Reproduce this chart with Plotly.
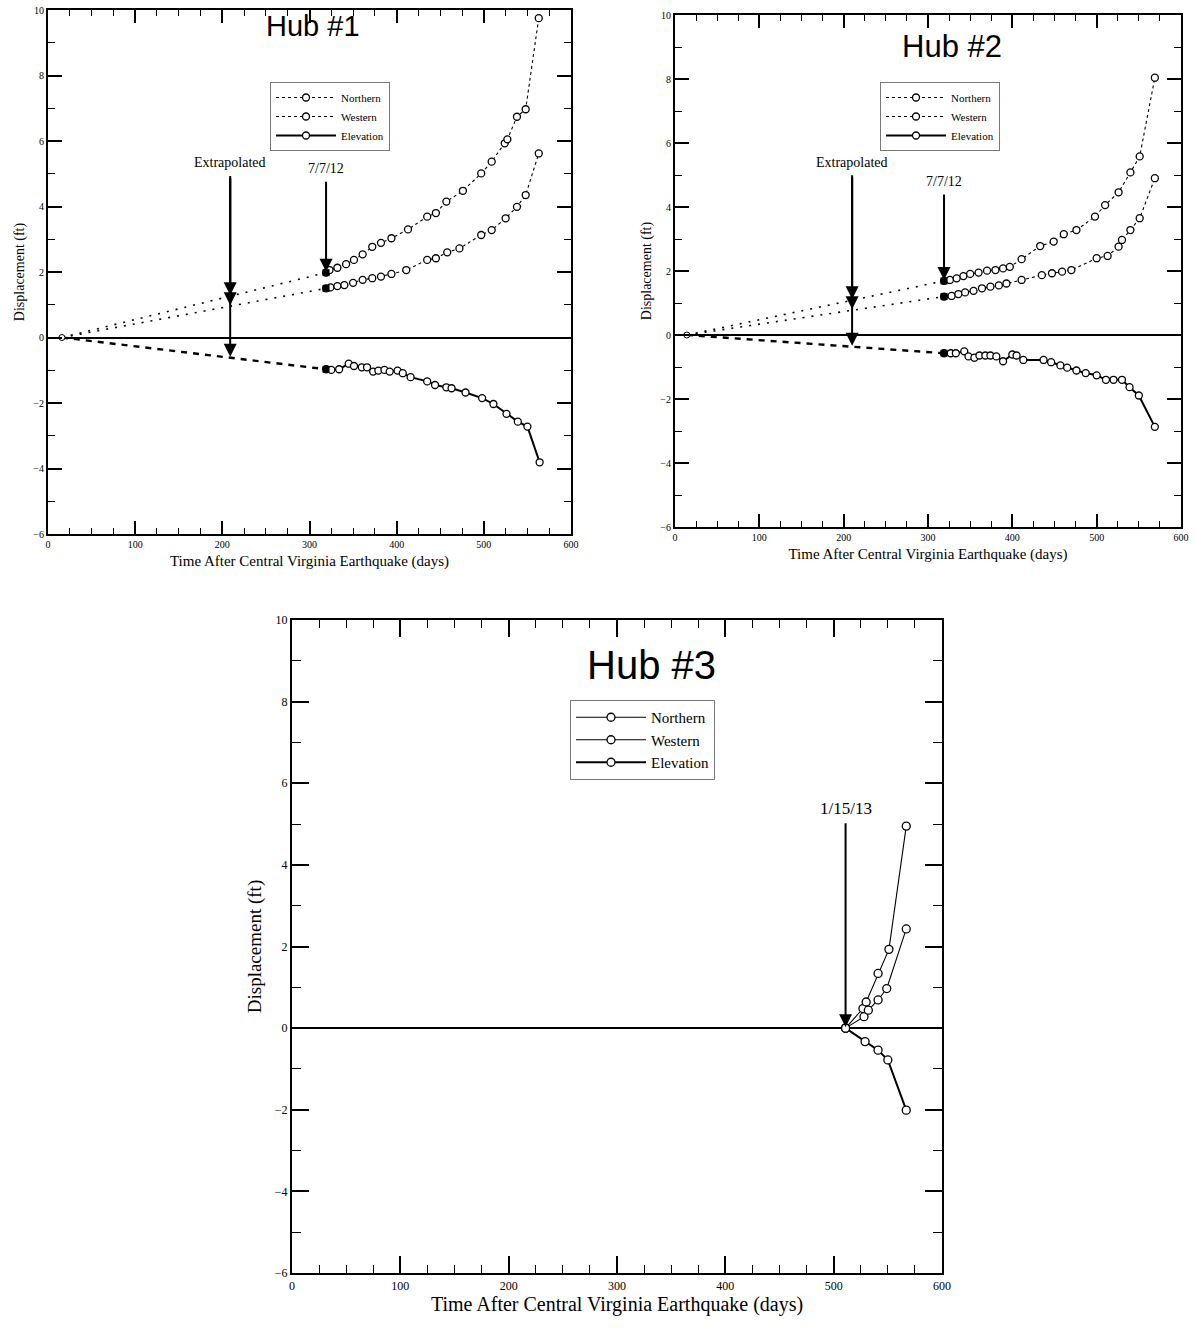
import numpy as np
import plotly.graph_objects as go

# ---------------- data (days after 8/23/2011 earthquake, displacement ft) ----------------
h1_start_day = 16
h1_days_N = [319, 323, 332, 342, 351, 361, 372, 382, 394, 413, 435, 445, 457, 476, 497, 509, 524, 527, 538, 548, 563]
h1_N = [1.98, 2.06, 2.13, 2.24, 2.37, 2.54, 2.77, 2.89, 3.03, 3.30, 3.69, 3.80, 4.15, 4.48, 5.01, 5.37, 5.93, 6.05, 6.74, 6.97, 9.75]
h1_days_W = [319, 324, 332, 340, 350, 361, 372, 382, 394, 411, 435, 445, 458, 472, 497, 509, 525, 538, 548, 563]
h1_W = [1.50, 1.53, 1.57, 1.60, 1.67, 1.76, 1.81, 1.86, 1.94, 2.06, 2.37, 2.42, 2.60, 2.72, 3.13, 3.28, 3.64, 3.99, 4.35, 5.62]
h1_days_E = [319, 325, 334, 345, 351, 360, 366, 373, 379, 386, 392, 401, 407, 416, 435, 444, 457, 463, 479, 498, 511, 526, 539, 550, 564]
h1_E = [-0.97, -0.99, -0.97, -0.80, -0.87, -0.91, -0.91, -1.04, -1.01, -0.99, -1.04, -1.01, -1.09, -1.21, -1.34,
        -1.45, -1.52, -1.55, -1.68, -1.85, -2.03, -2.33, -2.57, -2.72, -3.81]

h2_start_day = 14
h2_days_N = [319, 326, 334, 342, 350, 360, 370, 380, 389, 397, 411, 433, 449, 461, 476, 498, 510, 526, 540, 551, 569]
h2_N = [1.69, 1.72, 1.77, 1.84, 1.91, 1.95, 2.01, 2.03, 2.08, 2.13, 2.37, 2.78, 2.92, 3.15, 3.28, 3.70, 4.06, 4.46, 5.08, 5.58, 8.04]
h2_days_W = [319, 328, 336, 344, 354, 364, 374, 384, 393, 411, 435, 447, 459, 470, 500, 513, 526, 530, 540, 551, 569]
h2_W = [1.20, 1.22, 1.28, 1.33, 1.38, 1.46, 1.51, 1.55, 1.61, 1.72, 1.87, 1.93, 1.98, 2.03, 2.40, 2.47, 2.76, 2.97, 3.28, 3.65, 4.90]
h2_days_E = [319, 327, 333, 343, 348, 355, 361, 368, 374, 381, 389, 400, 405, 413, 437, 446, 457, 465, 476, 487, 500,
             511, 520, 530, 539, 550, 569]
h2_E = [-0.57, -0.57, -0.57, -0.51, -0.67, -0.71, -0.64, -0.64, -0.64, -0.67, -0.82, -0.61, -0.64, -0.78, -0.78,
        -0.85, -0.95, -1.02, -1.11, -1.19, -1.26, -1.40, -1.40, -1.40, -1.63, -1.89, -2.87]

h3_days_N = [511, 527, 530, 541, 551, 567]
h3_N = [0.0, 0.48, 0.64, 1.34, 1.93, 4.95]
h3_days_W = [511, 528, 532, 541, 549, 567]
h3_W = [0.0, 0.28, 0.44, 0.69, 0.97, 2.43]
h3_days_E = [511, 529, 541, 550, 567]
h3_E = [0.0, -0.33, -0.54, -0.78, -2.01]

x_ticks = [0, 100, 200, 300, 400, 500, 600]
y_ticks = [-6, -4, -2, 0, 2, 4, 6, 8, 10]
series_names = ["Northern", "Western", "Elevation"]
extrap_day = {1: 209, 2: 210}
date_label_12 = "7/7/12"
date_label_13 = "1/15/13"

SERIF = "Liberation Serif, Times New Roman, serif"
SANS = "Liberation Sans, Arial, sans-serif"
W, H = 1196, 1328

fig = go.Figure()

def px_dom(x0, x1, y0, y1):
    return [x0 / W, x1 / W], [1 - y1 / H, 1 - y0 / H]

doms = {
    1: px_dom(48, 571, 10, 534),
    2: px_dom(675, 1181, 15, 527),
    3: px_dom(292, 942, 620, 1273),
}

def add_hub(k, dN, vN, dW, vW, dE, vE, start_day=None, msize=7, dotted=True, legend="legend"):
    xa = "x" if k == 1 else f"x{k}"
    ya = "y" if k == 1 else f"y{k}"
    if start_day is not None:
        # extrapolated segments from the start to the first survey
        for d, v, dash, wdt in ((dN, vN, "2px,7px", 1.6), (dW, vW, "2px,7px", 1.6), (dE, vE, "6px,6px", 2.4)):
            fig.add_trace(go.Scatter(x=[start_day, d[0]], y=[0, v[0]], mode="lines",
                                     line=dict(color="black", width=wdt, dash=dash),
                                     showlegend=False, xaxis=xa, yaxis=ya, hoverinfo="skip"))
        fig.add_trace(go.Scatter(x=[start_day], y=[0], mode="markers",
                                 marker=dict(symbol="circle", size=msize - 1, color="white",
                                             line=dict(color="black", width=1)),
                                 showlegend=False, xaxis=xa, yaxis=ya, hoverinfo="skip"))
    ndash = "dot" if dotted else "solid"
    specs = [(dN, vN, series_names[0], 1.1, ndash), (dW, vW, series_names[1], 1.1, ndash),
             (dE, vE, series_names[2], 2.0, "solid")]
    for d, v, name, wdt, dash in specs:
        fig.add_trace(go.Scatter(x=d, y=v, mode="lines+markers", name=name,
                                 line=dict(color="black", width=wdt, dash=dash),
                                 marker=dict(symbol="circle", size=msize, color="white",
                                             line=dict(color="black", width=1.3)),
                                 legend=legend, xaxis=xa, yaxis=ya))
    if start_day is not None:
        fig.add_trace(go.Scatter(x=[dN[0], dW[0], dE[0]], y=[vN[0], vW[0], vE[0]], mode="markers",
                                 marker=dict(symbol="square", size=msize, color="black"),
                                 showlegend=False, xaxis=xa, yaxis=ya, hoverinfo="skip"))

add_hub(1, h1_days_N, h1_N, h1_days_W, h1_W, h1_days_E, h1_E, start_day=h1_start_day, legend="legend")
add_hub(2, h2_days_N, h2_N, h2_days_W, h2_W, h2_days_E, h2_E, start_day=h2_start_day, legend="legend2")
add_hub(3, h3_days_N, h3_N, h3_days_W, h3_W, h3_days_E, h3_E, start_day=None, msize=8, dotted=False,
        legend="legend3")

def axis_pair(k, big):
    xd, yd = doms[k]
    tf = dict(family=SERIF, size=12 if big else 10, color="black")
    ttf = dict(family=SERIF, size=20 if big else 15, color="black")
    ytf = dict(family=SERIF, size=19 if big else 14, color="black")
    xmaj, xmin_ = (17, 8) if big else (13, 6)
    ymaj, ymin_ = (17, 9) if big else (14, 7)
    xaxis = dict(domain=xd, range=[0, 600], tickmode="array", tickvals=x_ticks,
                 ticks="inside", ticklen=xmaj, tickwidth=1.6, tickcolor="black",
                 minor=dict(dtick=25, tick0=0, ticks="inside", ticklen=xmin_, tickwidth=1.3, tickcolor="black"),
                 showline=True, linewidth=2.2, linecolor="black", mirror="ticks",
                 showgrid=False, zeroline=False, tickfont=tf, automargin=False,
                 title=dict(text="Time After Central Virginia Earthquake (days)", font=ttf,
                            standoff=2 if big else 6),
                 anchor="y" if k == 1 else f"y{k}")
    yaxis = dict(domain=yd, range=[-6, 10], tickmode="array", tickvals=y_ticks,
                 ticks="inside", ticklen=ymaj, tickwidth=1.6, tickcolor="black",
                 minor=dict(dtick=1, tick0=0, ticks="inside", ticklen=ymin_, tickwidth=1.3, tickcolor="black"),
                 showline=True, linewidth=2.2, linecolor="black", mirror="ticks",
                 showgrid=False, zeroline=True, zerolinecolor="black", zerolinewidth=1.8,
                 tickfont=tf, automargin=False,
                 title=dict(text="Displacement (ft)", font=ytf, standoff=8 if big else 5),
                 anchor="x" if k == 1 else f"x{k}")
    return xaxis, yaxis

x1, y1 = axis_pair(1, False)
x2, y2 = axis_pair(2, False)
x3, y3 = axis_pair(3, True)

legend_common = dict(bgcolor="white", bordercolor="#777777", borderwidth=1, xanchor="left", yanchor="top",
                     tracegroupgap=0)

fig.update_layout(
    width=W, height=H, margin=dict(l=0, r=0, t=0, b=0),
    paper_bgcolor="white", plot_bgcolor="white", showlegend=True,
    xaxis=x1, yaxis=y1, xaxis2=x2, yaxis2=y2, xaxis3=x3, yaxis3=y3,
    legend=dict(x=270 / W, y=1 - 82 / H, itemwidth=60,
                font=dict(family=SERIF, size=11, color="black"), **legend_common),
    legend2=dict(x=880 / W, y=1 - 82 / H, itemwidth=60,
                 font=dict(family=SERIF, size=11, color="black"), **legend_common),
    legend3=dict(x=570 / W, y=1 - 700 / H, itemwidth=70,
                 font=dict(family=SERIF, size=15, color="black"), **legend_common),
)

ann = []
# hub titles
for text, cx, cy, size in (("Hub #1", 313, 26, 29), ("Hub #2", 952, 47, 31), ("Hub #3", 651, 665, 40)):
    ann.append(dict(text=text, x=cx / W, y=1 - cy / H, xref="paper", yref="paper", showarrow=False,
                    font=dict(family=SANS, size=size, color="black"), xanchor="center", yanchor="middle"))

def arrow(k, x, y, tail_y, text="", size=14):
    xa = "x" if k == 1 else f"x{k}"
    ya = "y" if k == 1 else f"y{k}"
    return dict(x=x, y=y, xref=xa, yref=ya, ax=x, ay=tail_y, axref=xa, ayref=ya, text=text,
                showarrow=True, arrowhead=2, arrowsize=1.3, arrowwidth=2, arrowcolor="black",
                font=dict(family=SERIF, size=size, color="black"), standoff=1, startstandoff=4)

hub_data = {
    1: (h1_start_day, h1_days_N, h1_N, h1_days_W, h1_W, h1_days_E, h1_E, 5.33, 5.15),
    2: (h2_start_day, h2_days_N, h2_N, h2_days_W, h2_W, h2_days_E, h2_E, 5.40, 4.80),
}
for k, (sd, dN, vN, dW, vW, dE, vE, ext_tail, date_tail) in hub_data.items():
    xd = extrap_day[k]
    yN = float(np.interp(xd, [sd, dN[0]], [0, vN[0]]))
    yW = float(np.interp(xd, [sd, dW[0]], [0, vW[0]]))
    yE = float(np.interp(xd, [sd, dE[0]], [0, vE[0]]))
    ann.append(arrow(k, xd, yE, ext_tail, "Extrapolated"))
    ann.append(arrow(k, xd, yN, ext_tail - 0.3))
    ann.append(arrow(k, xd, yW, ext_tail - 0.3))
    ann.append(arrow(k, dN[0], vN[0], date_tail, date_label_12))

ann.append(arrow(3, h3_days_E[0], h3_E[0], 5.39, date_label_13, size=17))

fig.update_layout(annotations=ann)
fig.write_html("out.html")
